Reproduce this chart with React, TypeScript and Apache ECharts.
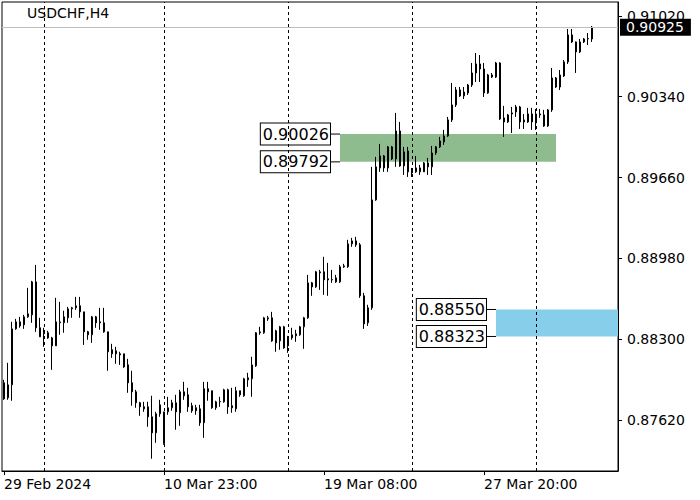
import React, { useEffect, useRef } from "react";
import * as echarts from "echarts";

const chartTitle = "USDCHF,H4";

// H4 candles, oldest first: open, close, low, high
const opens = [
  0.87933, 0.87807, 0.87916, 0.88387, 0.88446, 0.88421, 0.88488, 0.88505, 0.88782, 0.88396,
  0.88354, 0.88354, 0.88311, 0.88244, 0.88438, 0.88438, 0.8848, 0.88555, 0.88564, 0.88581,
  0.8853, 0.88362, 0.88337, 0.88488, 0.88446, 0.88438, 0.88362, 0.88211, 0.88202, 0.88177,
  0.88177, 0.88084, 0.87933, 0.87857, 0.87765, 0.87731, 0.87731, 0.87647, 0.87512, 0.87672,
  0.8742, 0.87689, 0.87723, 0.87765, 0.87681, 0.87857, 0.87832, 0.8774, 0.87723, 0.87714,
  0.87597, 0.87883, 0.87866, 0.87723, 0.87773, 0.87773, 0.87874, 0.8774, 0.87714, 0.87866,
  0.87824, 0.87958, 0.87967, 0.88076, 0.88354, 0.88354, 0.88471, 0.8848, 0.8837, 0.88286,
  0.88404, 0.8832, 0.88311, 0.88328, 0.88337, 0.88404, 0.8848, 0.88774, 0.8874, 0.88858,
  0.88867, 0.88808, 0.88799, 0.88782, 0.88782, 0.88909, 0.88909, 0.89102, 0.89127, 0.89094,
  0.88665, 0.88438, 0.88564, 0.89472, 0.89741, 0.89842, 0.89741, 0.89918, 0.89817, 0.90052,
  0.89758, 0.89884, 0.89716, 0.89708, 0.89708, 0.89708, 0.89783, 0.8975, 0.89867, 0.89918,
  0.8996, 0.9001, 0.90145, 0.90271, 0.90397, 0.90347, 0.90372, 0.90439, 0.9054, 0.90616,
  0.90574, 0.90372, 0.90506, 0.90506, 0.90624, 0.90162, 0.90128, 0.90195, 0.90212, 0.90254,
  0.90145, 0.90128, 0.90195, 0.9012, 0.90195, 0.90187, 0.90094, 0.90229, 0.90498, 0.90422,
  0.90515, 0.90633, 0.9086, 0.90801, 0.90717, 0.90801, 0.90826, 0.90826,
];
const closes = [
  0.87798, 0.87916, 0.88387, 0.88446, 0.88412, 0.88488, 0.88513, 0.88782, 0.88396, 0.8832,
  0.88345, 0.88311, 0.88244, 0.88446, 0.88446, 0.88488, 0.88555, 0.88564, 0.88581, 0.8853,
  0.88362, 0.88337, 0.88488, 0.88438, 0.88438, 0.88362, 0.88194, 0.88177, 0.88177, 0.88168,
  0.88067, 0.87933, 0.87857, 0.87765, 0.87731, 0.87714, 0.87647, 0.87512, 0.87672, 0.87748,
  0.87689, 0.87723, 0.87765, 0.87689, 0.87857, 0.87824, 0.87731, 0.87698, 0.87698, 0.87597,
  0.87883, 0.87857, 0.87723, 0.87773, 0.87776, 0.87874, 0.87731, 0.87723, 0.87866, 0.87832,
  0.87967, 0.87975, 0.88084, 0.88354, 0.88362, 0.8848, 0.8848, 0.88286, 0.88269, 0.88404,
  0.88227, 0.88244, 0.88337, 0.88345, 0.88404, 0.8848, 0.88774, 0.8874, 0.88867, 0.88867,
  0.88799, 0.88799, 0.88802, 0.88816, 0.88909, 0.88917, 0.89102, 0.89127, 0.89094, 0.88665,
  0.88429, 0.88564, 0.89472, 0.8975, 0.89842, 0.89741, 0.89918, 0.89817, 0.90052, 0.89758,
  0.89876, 0.89708, 0.89699, 0.89741, 0.89741, 0.89783, 0.8975, 0.89867, 0.89918, 0.89968,
  0.9001, 0.90145, 0.90271, 0.90397, 0.90347, 0.9038, 0.90439, 0.9054, 0.90616, 0.90574,
  0.90372, 0.90523, 0.90523, 0.90624, 0.90153, 0.90128, 0.90187, 0.90204, 0.90254, 0.90128,
  0.90128, 0.90195, 0.90128, 0.90195, 0.90187, 0.90094, 0.90229, 0.90498, 0.90422, 0.90523,
  0.90633, 0.9086, 0.90801, 0.90717, 0.90801, 0.90826, 0.9083, 0.90925,
];
const lows = [
  0.8779, 0.8779, 0.87782, 0.88379, 0.88396, 0.88387, 0.8848, 0.88438, 0.88362, 0.8832,
  0.88236, 0.88303, 0.88042, 0.88244, 0.88337, 0.88354, 0.88438, 0.8848, 0.88547, 0.8848,
  0.88252, 0.88295, 0.88269, 0.88396, 0.88379, 0.88354, 0.88034, 0.88143, 0.88093, 0.88084,
  0.88059, 0.87849, 0.8774, 0.87723, 0.87655, 0.87689, 0.87563, 0.87294, 0.87428, 0.87647,
  0.87412, 0.87664, 0.87698, 0.87538, 0.87571, 0.8779, 0.87689, 0.87681, 0.87664, 0.87571,
  0.8747, 0.87782, 0.87714, 0.87706, 0.87731, 0.87765, 0.87672, 0.87681, 0.87689, 0.87815,
  0.87815, 0.87899, 0.87815, 0.88067, 0.88337, 0.88345, 0.88454, 0.88278, 0.88194, 0.88211,
  0.88219, 0.88185, 0.88295, 0.88278, 0.88328, 0.88219, 0.88471, 0.88665, 0.88732, 0.88715,
  0.88673, 0.88665, 0.88774, 0.88774, 0.88774, 0.889, 0.889, 0.89077, 0.89077, 0.88648,
  0.88387, 0.88412, 0.88547, 0.89464, 0.89708, 0.89708, 0.89708, 0.89808, 0.8975, 0.8975,
  0.89682, 0.89665, 0.89665, 0.89699, 0.89682, 0.89708, 0.89682, 0.89682, 0.8985, 0.89909,
  0.89935, 0.90002, 0.90128, 0.90254, 0.90338, 0.90321, 0.90355, 0.90422, 0.90464, 0.90464,
  0.90338, 0.90364, 0.90498, 0.90498, 0.90145, 0.90002, 0.9012, 0.90035, 0.9017, 0.90069,
  0.90069, 0.9012, 0.90061, 0.90061, 0.90162, 0.90086, 0.90086, 0.90212, 0.90414, 0.90397,
  0.90506, 0.90616, 0.90792, 0.9054, 0.90708, 0.90792, 0.90775, 0.90801,
];
const highs = [
  0.87958, 0.88101, 0.88446, 0.88471, 0.88488, 0.88505, 0.88732, 0.88791, 0.88925, 0.8848,
  0.88396, 0.8837, 0.8832, 0.88648, 0.88614, 0.88539, 0.88572, 0.88572, 0.88656, 0.88656,
  0.8853, 0.8837, 0.88496, 0.88496, 0.88564, 0.88564, 0.88362, 0.88261, 0.88236, 0.88194,
  0.88177, 0.88135, 0.88034, 0.87874, 0.87773, 0.87773, 0.87773, 0.87824, 0.87689, 0.8779,
  0.87689, 0.87815, 0.8779, 0.87832, 0.87874, 0.87941, 0.87891, 0.87765, 0.87748, 0.87748,
  0.87941, 0.87941, 0.87866, 0.87782, 0.87815, 0.87883, 0.87883, 0.87891, 0.87899, 0.87866,
  0.87975, 0.88017, 0.88152, 0.8836, 0.88404, 0.88488, 0.88496, 0.8853, 0.88379, 0.88412,
  0.88412, 0.88328, 0.88396, 0.88379, 0.88412, 0.88488, 0.88841, 0.88782, 0.88875, 0.88883,
  0.88993, 0.88942, 0.88883, 0.88841, 0.88925, 0.88934, 0.89136, 0.89152, 0.89161, 0.8911,
  0.8869, 0.88589, 0.8975, 0.89834, 0.89943, 0.8985, 0.89926, 0.89926, 0.90204, 0.90128,
  0.89918, 0.89918, 0.89741, 0.89842, 0.89766, 0.8979, 0.89825, 0.89926, 0.89926, 0.90002,
  0.90061, 0.9017, 0.90456, 0.90422, 0.90422, 0.90422, 0.90448, 0.90624, 0.90708, 0.90691,
  0.90624, 0.90532, 0.9054, 0.90633, 0.9063, 0.90263, 0.90195, 0.90254, 0.90271, 0.90263,
  0.90195, 0.90246, 0.90246, 0.90237, 0.90237, 0.90229, 0.90237, 0.90582, 0.90506, 0.90565,
  0.90649, 0.9091, 0.9091, 0.90805, 0.90826, 0.90834, 0.90876, 0.90935,
];

// empty bar slots kept on the right side of the chart (chart shift)
const rightShiftBars = 6;

// time-axis labels (bar index -> text)
const timeTickIndices = [0, 40, 80, 120];
const timeTickLabels = ["29 Feb 2024", "10 Mar 23:00", "19 Mar 08:00", "27 Mar 20:00"];

// vertical grid separators (bar indices)
const gridSeparatorIndices = [10, 40, 71, 102, 133];

// price scale
const priceTicks = [0.8762, 0.883, 0.8898, 0.8966, 0.9034, 0.9102];
const priceMin = 0.87191;
const priceMax = 0.91137;
const currentPrice = 0.90925;

// rectangle zones: upper price, lower price, first bar, last bar (null = to the right edge)
const zoneUpper = [0.90026, 0.8855];
const zoneLower = [0.89792, 0.88323];
const zoneStart = [84, 123];
const zoneEnd: (number | null)[] = [138, null];
const zoneColors = ["#8FBC8F", "#87CEEB"];

const FONT = "'DejaVu Sans', Verdana, sans-serif";

export default function App() {
  const ref = useRef<HTMLDivElement>(null);

  useEffect(() => {
    if (!ref.current) return;
    const chart = echarts.init(ref.current, undefined, { renderer: "svg" });

    const totalBars = opens.length + rightShiftBars;
    const categories = Array.from({ length: totalBars }, (_, i) => String(i));
    const candleData = opens.map((o, i) => [o, closes[i], lows[i], highs[i]]);
    const labelFor = (idx: number) => {
      const k = timeTickIndices.indexOf(idx);
      return k >= 0 ? timeTickLabels[k] : "";
    };
    const isTimeTick = (idx: number) => timeTickIndices.indexOf(idx) >= 0;

    const option: any = {
      animation: false,
      backgroundColor: "#ffffff",
      title: {
        text: chartTitle,
        left: 27,
        top: 6,
        padding: 0,
        textStyle: { fontFamily: FONT, fontSize: 14, fontWeight: "normal", color: "#000" },
      },
      grid: {
        left: 2,
        right: 82,
        top: 2,
        bottom: 29,
        show: true,
        borderColor: "#000",
        borderWidth: 1,
        backgroundColor: "#fff",
      },
      xAxis: {
        type: "category",
        data: categories,
        boundaryGap: true,
        axisLine: { show: true, lineStyle: { color: "#000", width: 1 } },
        axisTick: {
          show: true,
          length: 4,
          alignWithLabel: true,
          interval: (idx: number) => isTimeTick(idx),
          lineStyle: { color: "#000" },
        },
        axisLabel: {
          show: true,
          interval: (idx: number) => isTimeTick(idx),
          formatter: (_v: string, idx: number) => labelFor(idx),
          align: "left",
          margin: 6,
          fontFamily: FONT,
          fontSize: 14,
          color: "#000",
        },
        splitLine: { show: false },
      },
      yAxis: {
        type: "value",
        position: "right",
        min: priceMin,
        max: priceMax,
        axisLine: { show: true, lineStyle: { color: "#000", width: 1 } },
        axisTick: {
          show: true,
          length: 4,
          customValues: priceTicks,
          lineStyle: { color: "#000" },
        },
        axisLabel: {
          show: true,
          customValues: priceTicks,
          formatter: (v: number) => v.toFixed(5),
          margin: 9,
          fontFamily: FONT,
          fontSize: 14,
          color: "#000",
        },
        splitLine: { show: false },
      },
      series: [
        {
          type: "custom",
          name: "zones",
          z: 1,
          silent: true,
          clip: false,
          data: zoneUpper.map((u, i) => [zoneStart[i], u]),
          renderItem: (params: any, api: any) => {
            const i = params.dataIndex;
            const cs = params.coordSys;
            const pTop = api.coord([zoneStart[i], zoneUpper[i]]);
            const pBot = api.coord([zoneStart[i], zoneLower[i]]);
            const x0 = pTop[0];
            const yTop = pTop[1];
            const yBot = pBot[1];
            const endIdx = zoneEnd[i];
            const x1 = endIdx == null ? cs.x + cs.width : api.coord([endIdx, zoneUpper[i]])[0];
            const gap = 10;
            const boxStyle = {
              align: "right",
              verticalAlign: "middle",
              fontFamily: FONT,
              fontSize: 16,
              fill: "#000",
              backgroundColor: "#fff",
              borderColor: "#000",
              borderWidth: 1,
              padding: [3, 1, 2, 2],
            };
            return {
              type: "group",
              children: [
                {
                  type: "rect",
                  shape: { x: x0, y: yTop, width: x1 - x0, height: yBot - yTop },
                  style: { fill: zoneColors[i] },
                },
                {
                  type: "line",
                  shape: { x1: x0 - gap, y1: yTop, x2: x0, y2: yTop },
                  style: { stroke: "#000", lineWidth: 1 },
                },
                {
                  type: "line",
                  shape: { x1: x0 - gap, y1: yBot, x2: x0, y2: yBot },
                  style: { stroke: "#000", lineWidth: 1 },
                },
                {
                  type: "text",
                  x: x0 - gap,
                  y: yTop,
                  style: { ...boxStyle, text: zoneUpper[i].toFixed(5) },
                },
                {
                  type: "text",
                  x: x0 - gap,
                  y: yBot,
                  style: { ...boxStyle, text: zoneLower[i].toFixed(5) },
                },
              ],
            };
          },
        },
        {
          type: "line",
          name: "grid",
          z: 2,
          silent: true,
          data: opens.map(() => null),
          showSymbol: false,
          lineStyle: { opacity: 0 },
          markLine: {
            silent: true,
            symbol: ["none", "none"],
            label: { show: false },
            lineStyle: { color: "#000", width: 1, type: [3, 3] },
            data: gridSeparatorIndices.map((idx) => ({ xAxis: idx })),
          },
        },
        {
          type: "candlestick",
          name: chartTitle,
          z: 3,
          barWidth: 2,
          data: candleData,
          itemStyle: {
            color: "#ffffff",
            color0: "#000000",
            borderColor: "#000000",
            borderColor0: "#000000",
            borderWidth: 1,
          },
          markLine: {
            silent: true,
            precision: 5,
            symbol: ["none", "none"],
            lineStyle: { color: "#C0C0C0", width: 1, type: "solid" },
            label: {
              show: true,
              position: "end",
              distance: 2,
              formatter: () => currentPrice.toFixed(5),
              backgroundColor: "#000",
              color: "#fff",
              fontFamily: FONT,
              fontSize: 14,
              padding: [2, 7, 1, 6],
            },
            data: [{ yAxis: currentPrice }],
          },
        },
      ],
    };

    chart.setOption(option);
    return () => chart.dispose();
  }, []);

  return (
    <div
      ref={ref}
      style={{ position: "absolute", left: 0, top: 0, width: 700, height: 500, background: "#fff" }}
    />
  );
}
